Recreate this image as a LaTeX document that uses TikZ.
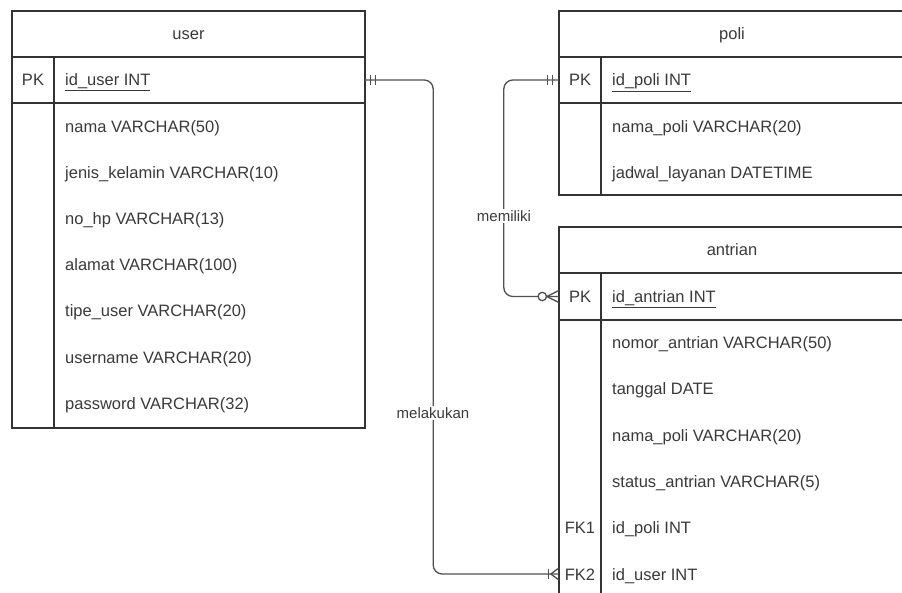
\documentclass[tikz,border=0pt]{standalone}
\usepackage{fontspec}
\setmainfont{Liberation Sans}
\usetikzlibrary{calc}
\definecolor{linec}{HTML}{333333}
\definecolor{txtc}{HTML}{3A3A3A}
\definecolor{conc}{HTML}{505050}
\newcommand\fsz{\fontsize{16.5pt}{19pt}\selectfont}
\newcommand\lsz{\fontsize{15pt}{17pt}\selectfont}
\begin{document}
\begin{tikzpicture}[x=1pt,y=-1pt,
  frame/.style={draw=linec, line width=1.4pt},
  hdr/.style={anchor=base, yshift=-6pt, inner sep=0pt, text=txtc, font=\fsz},
  keytxt/.style={anchor=base, yshift=-6pt, inner sep=0pt, text=txtc, font=\fsz},
  field/.style={anchor=base west, yshift=-6pt, inner sep=0pt, text=txtc, font=\fsz},
  rowbox/.style={draw=none, inner sep=0pt, minimum height=46pt},
  conn/.style={draw=conc, line width=1.3pt},
  lbl/.style={fill=white, inner sep=1.5pt, text=txtc, font=\lsz}]
\useasboundingbox (0,0) rectangle (902,593);
\clip (0,0) rectangle (902,593);
\fill[white] (0,0) rectangle (902,593);

% ---------- user table ----------
\draw[frame] (12,11) rectangle (365,428);
\draw[frame] (12,57) -- (365,57);
\draw[frame] (12,103) -- (365,103);
\draw[frame] (54,57) -- (54,428);
\node[hdr] (userhdr) at (188.5,34) {user};
\node[rowbox, minimum width=353pt] (userpk) at (188.5,80) {};
\node[keytxt] (userpkk) at (33,80) {PK};
\node[field] (useridf) at (65,80) {\underline{id\_user INT}};
\node[field] (u1) at (65,127) {nama VARCHAR(50)};
\node[field] (u2) at (65,173) {jenis\_kelamin VARCHAR(10)};
\node[field] (u3) at (65,219) {no\_hp VARCHAR(13)};
\node[field] (u4) at (65,265) {alamat VARCHAR(100)};
\node[field] (u5) at (65,311) {tipe\_user VARCHAR(20)};
\node[field] (u6) at (65,357) {username VARCHAR(20)};
\node[field] (u7) at (65,403) {password VARCHAR(32)};

% ---------- poli table ----------
\draw[frame] (559,11) rectangle (906,195);
\draw[frame] (559,57) -- (906,57);
\draw[frame] (559,103) -- (906,103);
\draw[frame] (601,57) -- (601,195);
\node[hdr] (polihdr) at (732,34) {poli};
\node[rowbox, minimum width=347pt] (polipk) at (732.5,80) {};
\node[keytxt] (polipkk) at (580,80) {PK};
\node[field] (poliidf) at (612,80) {\underline{id\_poli INT}};
\node[field] (p1) at (612,127) {nama\_poli VARCHAR(20)};
\node[field] (p2) at (612,173) {jadwal\_layanan DATETIME};

% ---------- antrian table ----------
\draw[frame] (559,227) rectangle (906,610);
\draw[frame] (559,273) -- (906,273);
\draw[frame] (559,320) -- (906,320);
\draw[frame] (601,273) -- (601,610);
\node[hdr] (anthdr) at (732,250) {antrian};
\node[rowbox, minimum width=347pt] (antpk) at (732.5,296.5) {};
\node[keytxt] (antpkk) at (580,296.5) {PK};
\node[field] (antidf) at (612,296.5) {\underline{id\_antrian INT}};
\node[field] (a1) at (612,343) {nomor\_antrian VARCHAR(50)};
\node[field] (a2) at (612,389) {tanggal DATE};
\node[field] (a3) at (612,435) {nama\_poli VARCHAR(20)};
\node[field] (a4) at (612,481) {status\_antrian VARCHAR(5)};
\node[keytxt] (fk1) at (580,527) {FK1};
\node[field] (a5) at (612,527) {id\_poli INT};
\node[rowbox, minimum width=347pt] (antfk2) at (732.5,574) {};
\node[keytxt] (fk2) at (580,574) {FK2};
\node[field] (a6) at (612,574) {id\_user INT};

% ---------- connectors ----------
\draw[conn, rounded corners=9pt] (userpk.east) -- ++(68,0) |- (antfk2.west);
\draw[conn, rounded corners=9pt] (polipk.west) -- ++(-55,0) |- (antpk.west);

% markers: user end (mandatory one)
\draw[conn] ([shift={(5,-5)}]userpk.east) -- ++(0,10);
\draw[conn] ([shift={(10,-5)}]userpk.east) -- ++(0,10);
% poli end (mandatory one)
\draw[conn] ([shift={(-6,-5)}]polipk.west) -- ++(0,10);
\draw[conn] ([shift={(-11,-5)}]polipk.west) -- ++(0,10);
% antrian PK end (zero or many)
\draw[conn] ([shift={(-12,0)}]antpk.west) -- ([shift={(0,-6)}]antpk.west)
            ([shift={(-12,0)}]antpk.west) -- ([shift={(0,6)}]antpk.west);
\draw[conn, fill=white] ([xshift=-16.5pt]antpk.west) circle (4.2pt);
% antrian FK2 end (one or many)
\draw[conn] ([shift={(-10,-5)}]antfk2.west) -- ++(0,10);
\draw[conn] ([shift={(-8,0)}]antfk2.west) -- ([shift={(0,-6)}]antfk2.west)
            ([shift={(-8,0)}]antfk2.west) -- ([shift={(0,6)}]antfk2.west);

% labels
\node[lbl] (melakukan) at (433,413) {melakukan};
\node[lbl] (memiliki) at (504,216) {memiliki};
\end{tikzpicture}
\end{document}
